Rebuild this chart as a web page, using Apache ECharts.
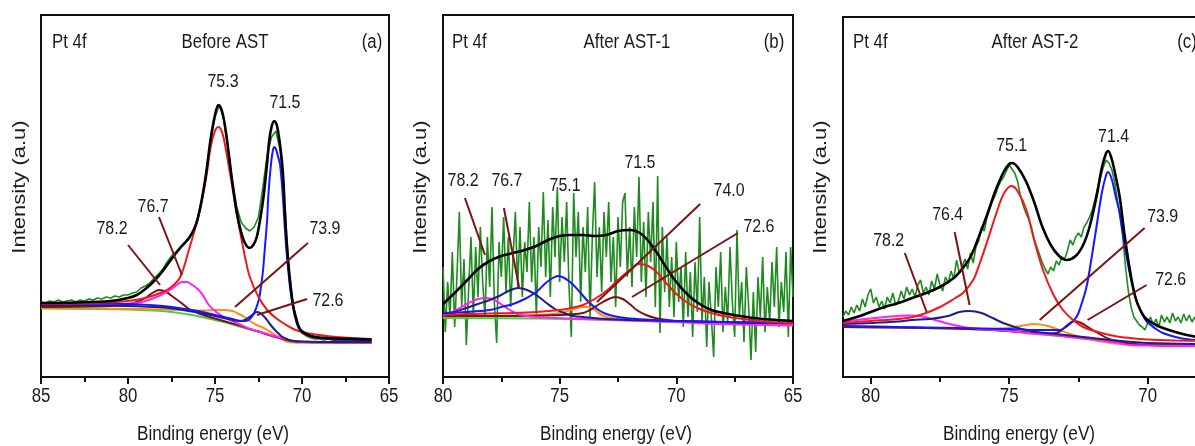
<!DOCTYPE html>
<html>
<head>
<meta charset="utf-8">
<script src="https://cdn.jsdelivr.net/npm/echarts@6/dist/echarts.min.js"></script>
<style>
  html, body { margin: 0; padding: 0; background: #fff; }
  #chart { width: 1195px; height: 446px; }
</style>
</head>
<body>
<div id="chart"></div>
<script>
// ---------- panel (a) Before AST : [binding energy eV, intensity a.u.] ----------
var aRawStart = 85, aRawStep = 0.25;
var aRaw = [75,74,76,75,77,75,76,77,75,77,76,78,77,79,78,80,79,81,80,82,82,84,85,89,91,94,99,103,108,115,
  121,125,130,133,138,145,156,176,204,236,260,272,258,228,196,170,155,149,146,150,160,190,222,240,246,226,172,108,70,52,
  44,41,39,38,38,37,38,37,36,37,36,35,36,35,34,35,34];
var aBase = [[85,68.5],[82,68],[80,67.5],[78.5,66.5],[77.5,65],[76.5,62.5],[75.5,59],[74.5,55],[73.5,50],[72.5,45.5],[71.5,40],[70.5,36],[69.5,34.8],[68,34.5],[66,34.3]];
var aOrange = [[85,69],[82,68.5],[80,68.2],[78,67.5],[77,67],[76,66.5],[75.5,66.5],[75,67],[74.5,67],[74,66],[73.7,63.7],[73.3,60],[73,56],[72.6,52],[72.2,49],[71.8,45],[71.5,41.5],[71.2,38.5],[70.9,35.5],[70.5,34.5],[70,34.3],[68,34.3],[66,34.2]];
var aMaroon = [[85,70],[81,71],[80,72.5],[79.5,75],[79,79],[78.6,84],[78.2,87],[77.8,85],[77.4,80],[77,75],[76.5,68],[76,64],[75.5,61],[75,58.5],[74.5,56],[74,53.5],[73.5,51],[73,48],[72.5,45.5],[72,42.5],[71.5,40],[71,37.5],[70.5,35.8],[70,35],[68,34.6],[66,34.5]];
var aMagenta = [[85,72],[81,72.5],[79.5,74],[79,76],[78.5,79],[78,83],[77.5,88],[77.2,92],[76.9,95],[76.6,95],[76.3,92],[76,88],[75.7,82],[75.4,73],[75,66],[74.5,60],[74,56],[73.5,52],[73,48],[72.5,45.5],[72,43],[71.5,40.5],[71,38],[70.5,36],[70,35],[68,34.8],[66,34.6]];
var aNavy = [[85,72],[82,71.5],[80,71],[78,69.5],[77,67.5],[76,64.5],[75,61],[74,57],[73.5,56],[73.1,59],[72.8,63],[72.6,65],[72.4,64],[72.1,59],[71.8,52],[71.5,46],[71.2,41],[70.9,38],[70.5,36],[70,35.5],[68,35],[66,35]];
var aBlue = [[85,74],[82,73.5],[80,73],[78,71],[76,66],[75,62],[74,58],[73.5,56],[73.25,56],[73,58],[72.75,64],[72.5,76],[72.4,85],[72.25,105],[72.13,130],[72,158],[71.94,180],[71.8,210],[71.7,224],[71.6,230],[71.5,228],[71.4,222],[71.26,212],[71.1,180],[70.98,147],[70.85,118],[70.69,90],[70.55,74],[70.4,64],[70.2,52],[70,46],[69.5,41],[69,39],[68,37.5],[66,37]];
var aRed = [[85,73],[82,74],[80,76],[79,79],[78,85],[77.5,90],[77,100],[76.5,127],[76,158],[75.75,178],[75.5,200],[75.25,230],[75,246],[74.8,250],[74.6,245],[74.4,230],[74.2,210],[74,190],[73.75,163],[73.5,140],[73.25,118],[73,100],[72.5,80],[72,67],[71.5,59],[71,53],[70.5,48],[70,45],[69,42],[68,40],[66,38]];
var aBlack = [[85,74],[83,74.5],[81,76],[80,79],[79.5,82],[79,88],[78.5,96],[78,106],[77.5,118],[77,129],[76.5,139],[76.2,148],[76,158],[75.75,178],[75.5,205],[75.25,238],[75,262],[74.8,272],[74.6,266],[74.4,248],[74.2,222],[74,194],[73.75,165],[73.5,145],[73.25,133],[73,129],[72.8,132],[72.6,140],[72.4,158],[72.2,182],[72,215],[71.88,237],[71.75,250],[71.6,256],[71.45,252],[71.26,232],[71.1,205],[70.98,165],[70.88,135],[70.7,98],[70.5,70],[70.3,55],[70.1,47],[69.5,41],[69,39.5],[68,38.5],[67,38],[66,37.5]];
var aLabels = [[74.54,295,'75.3'],[70.98,274,'71.5'],[78.56,170,'76.7'],[80.92,148,'78.2'],[68.68,148,'73.9'],[68.51,76,'72.6']];
var aLeaders = [[80.0,132,78.16,92],[78.22,160,76.9,102],[69.66,134,73.85,70],[69.71,78,72.59,62]];
var aTickLabels = [85, 80, 75, 70, 65];

// ---------- panel (b) After AST-1 ----------
var bRawStart = 80, bRawStep = 0.1;
var bRaw = [110,45,95,60,125,50,102,165,70,118, 32,88,140,60,130,80,150,95,60,140,
  90,170,75,34,135,100,160,85,140,70, 118,165,90,150,80,135,105,175,95,140,
  60,150,110,185,100,157,80,170,120,190, 95,160,115,175,90,40,184,120,165,75,
  150,105,170,60,140,195,100,150,85,165, 120,175,95,140,70,160,110,175,184,100,
  150,90,170,120,200,95,155,80,165,115, 175,70,201,44,150,85,140,70,120,60,
  135,75,110,50,125,60,105,40,115,65, 160,55,100,30,95,60,20,110,70,125,
  45,90,55,130,75,40,147,60,95,35, 110,70,17,85,25,100,60,120,45,90,
  55,115,70,130,50,95,65,125,40,130, 80];
var bBase = [[80,59],[76,58.5],[72,56.5],[68,54],[65,53]];
var bOrange = [[80,61],[78,61],[76,62],[75.3,63],[74.8,65],[74.4,68],[74,70],[73.8,70],[73.5,67],[73.2,62],[72.8,59],[72,57],[70,55],[68,54],[65,53]];
var bMaroon = [[80,61],[77,61],[75,62],[74,64],[73.7,67],[73.3,73],[72.9,78],[72.63,80],[72.3,78],[72,73],[71.7,67],[71.3,62],[70.9,59],[70.4,57],[70,56],[68,54.5],[65,53.5]];
var bMagenta = [[80,61],[79.6,65],[79.27,69],[78.9,74],[78.5,78],[78.13,79],[77.8,77],[77.4,71],[77.13,67],[76.8,63],[76.4,61],[76,60],[74,58],[72,56.5],[70,55],[68,53],[65,51.5]];
var bNavy = [[80,62],[79.5,65],[79,69],[78.5,73],[78,77],[77.5,82],[77.1,87],[76.77,89],[76.4,87],[76,82],[75.56,74],[75.2,68],[74.8,64],[74.4,61],[74,60],[73,58],[72,57],[70,56],[68,55],[65,54]];
var bBlue = [[80,64],[79,65],[78,67],[77.5,70],[77,73],[76.5,78],[76,85],[75.6,94],[75.3,99],[75.06,101],[74.8,99],[74.5,94],[74.1,84],[73.8,76],[73.4,68],[73,63],[72.5,60],[72,58.5],[71,57],[70,56],[68,55],[65,54]];
var bRed = [[80,62],[79,63],[78,63.5],[77,64],[76,65],[75,67],[74.5,69],[74,72],[73.5,78],[73,86],[72.5,97],[72,107],[71.6,113],[71.2,111],[70.8,104],[70.4,93],[70,83],[69.5,74],[69,68],[68.5,64],[68,61],[67,57.5],[66,55],[65,54]];
var bBlack = [[80,73],[79.5,84],[79,96],[78.5,108],[78,116],[77.5,121],[77,124],[76.5,127],[76,131],[75.5,137],[75,141],[74.5,142],[74,142],[73.5,141],[73,142],[72.5,146],[72,147],[71.5,143],[71,130],[70.5,112],[70,95],[69.5,82],[69,73],[68.5,67],[68,64],[67,60],[66,57.5],[65,56]];
var bLabels = [[79.14,196,'78.2'],[77.26,196,'76.7'],[74.77,191,'75.1'],[71.56,214,'71.5'],[67.74,186,'74.0'],[66.46,150,'72.6']];
var bLeaders = [[79.06,179,78.2,122],[77.39,169,76.74,90],[68.98,173,73.4,75],[67.36,144,71.9,80]];
var bTickLabels = [80, 75, 70, 65];

// ---------- panel (c) After AST-2 ----------
var cRawStart = 81, cRawStep = 0.1;
var cRaw = [60,66,62,70,64,72,66,78,70,82, 88,74,80,70,76,68,80,74,84,72,
  76,86,78,90,82,88,80,92,97,84, 90,82,96,88,103,92,86,100,94,106,
  98,117,104,110,118,108,124,114,130,136, 150,146,160,168,176,182,190,196,200,206,
  212,208,204,196,182,172,164,158,150,138, 130,122,114,108,103,110,106,116,112,120,
  118,126,137,132,140,144,140,150,154,160, 167,178,190,200,210,217,214,208,196,178,
  160,140,110,86,70,60,56,52,50,47, 54,60,52,58,50,62,55,60,54,64,
  56,60,54,63,56,62,55,60,52,58, 55];
var cBase = [[81,50],[78,49],[76,47.5],[75,46],[74,43],[73,40.5],[72,37.5],[71,34],[70,32],[68,31.5]];
var cOrange = [[81,50],[79,49.5],[77,48.5],[76,48],[75.2,48.5],[74.6,51],[74.08,53],[73.6,51],[73.2,47],[72.8,43],[72.3,39],[71.8,36],[71,33],[70,32],[68,31.5]];
var cMaroon = [[81,50],[78,49],[76,47.5],[75,46],[74,44],[73.5,43.5],[73.2,45],[72.9,52],[72.64,56],[72.4,54],[72.1,49],[71.8,44],[71.4,38],[71,35],[70.5,33],[70,32],[68,31.5]];
var cMagenta = [[81,55],[80.5,57],[80,58.5],[79.5,60],[79,61],[78.6,61.5],[78.23,61],[77.8,58],[77.3,54],[76.67,50],[76,48],[75,46],[74.4,44],[73.5,42],[72.5,39],[71.5,36],[70.65,32],[70,31.5],[69,31],[68,31]];
var cNavy = [[81,53],[80,54],[79,55.5],[78.5,57],[77.87,58],[77.2,61],[76.8,65],[76.43,66],[76,64],[75.6,59],[75.22,54],[74.8,50],[74.4,47],[74,45],[73.5,43.5],[73,42],[72.5,40.5],[72,39],[71,36],[70,34],[68,33]];
var cBlue = [[81,51],[79,50],[77,49],[75,48],[74,47],[73.5,47],[73.18,47],[72.9,51],[72.57,60],[72.4,72],[72.21,90],[72.05,115],[71.85,150],[71.65,185],[71.5,202],[71.43,205],[71.3,198],[71.15,180],[71.01,164],[70.85,135],[70.65,104],[70.4,76],[70.2,63],[70.05,56],[69.7,48],[69.45,44],[69,40],[68.5,37.5],[68,36.5]];
var cRed = [[81,54],[80,56],[79,58],[78.47,60],[78,64],[77.5,70],[77,78],[76.67,84],[76.3,97],[76.06,114],[75.8,135],[75.46,164],[75.2,183],[74.92,191],[74.7,186],[74.38,167],[74.1,137],[73.78,107],[73.4,82],[73.06,67],[72.7,57],[72.33,50],[71.8,45],[71.2,41],[70.65,39],[70,37.5],[69,36.5],[68,36]];
var cBlack = [[81,56],[80.5,60],[80,65],[79.5,70],[79,74],[78.5,79],[78,84],[77.5,90],[77,99],[76.7,108],[76.4,120],[76.1,140],[75.8,162],[75.5,186],[75.2,205],[75,213],[74.9,214],[74.7,210],[74.4,196],[74.1,175],[73.8,150],[73.5,132],[73.2,121],[72.93,117],[72.6,121],[72.33,132],[72.1,150],[71.85,180],[71.65,210],[71.5,224],[71.43,226],[71.3,218],[71.15,200],[71,178],[70.85,145],[70.65,108],[70.45,80],[70.25,66],[70.05,58],[69.7,52],[69.45,49],[69,45],[68.5,41.5],[68,39]];
var cLabels = [[74.91,231,'75.1'],[71.23,240,'71.4'],[77.22,162,'76.4'],[79.35,136,'78.2'],[69.46,160,'73.9'],[69.17,97,'72.6']];
var cLeaders = [[78.77,124,77.98,65],[76.97,145,76.43,72],[70.11,149,73.9,57],[70.04,92,72.17,57]];
var cTickLabels = [80, 75, 70];
var cMajorTicks = [65, 70, 75, 80];
var cMinorTicks = [67.5, 72.5, 77.5];

// panel headers: text, x px, y px, align
var headers = [
  ['Pt 4f', 52, 42, 'left'], ['Before AST', 225, 42, 'center'], ['(a)', 372, 42, 'center'],
  ['Pt 4f', 452, 42, 'left'], ['After AST-1', 627, 42, 'center'], ['(b)', 774, 42, 'center'],
  ['Pt 4f', 853, 42, 'left'], ['After AST-2', 1035, 42, 'center'], ['(c)', 1187, 42, 'center']
];
var xTitleCenters = [213, 616, 1019];
var yTitleCenters = [20, 421, 821];

var FONT = "'Liberation Sans',Arial,sans-serif";
var SQ = 0.84;   // the original figure is squeezed horizontally
var COLORS = {
  raw: '#1f8a1f', base: '#44d044', orange: '#ff8c1a', maroon: '#7d1212', magenta: '#ff22ff',
  navy: '#1e1e84', blue: '#1616ff', red: '#f01818', black: '#000000', leader: '#7a1414'
};

function toPairs(start, step, vals) {
  return vals.map(function (v, i) { return [+(start - i * step).toFixed(2), v]; });
}

var panels = [
  { raw: toPairs(aRawStart, aRawStep, aRaw), curves: [['base', aBase], ['orange', aOrange], ['maroon', aMaroon], ['magenta', aMagenta], ['navy', aNavy], ['blue', aBlue], ['red', aRed], ['black', aBlack]], labels: aLabels, leaders: aLeaders, ticks: aTickLabels },
  { raw: toPairs(bRawStart, bRawStep, bRaw), curves: [['base', bBase], ['orange', bOrange], ['maroon', bMaroon], ['magenta', bMagenta], ['navy', bNavy], ['blue', bBlue], ['red', bRed], ['black', bBlack]], labels: bLabels, leaders: bLeaders, ticks: bTickLabels },
  { raw: toPairs(cRawStart, cRawStep, cRaw), curves: [['base', cBase], ['orange', cOrange], ['maroon', cMaroon], ['magenta', cMagenta], ['navy', cNavy], ['blue', cBlue], ['red', cRed], ['black', cBlack]], labels: cLabels, leaders: cLeaders, ticks: cTickLabels }
];

var grids = [
  { left: 41, top: 15, width: 348, height: 362 },
  { left: 443, top: 15, width: 350, height: 362 },
  { left: 843, top: 17, width: 443.2, height: 360 }
];
var xRanges = [[65, 85], [65, 80], [65, 81]];
var yMax = [362, 362, 360];

var tickStyle = { color: '#111', width: 2 };
var xAxes = [], yAxes = [], series = [];
grids.forEach(function (g, i) {
  g.show = true;
  g.borderColor = '#111';
  g.borderWidth = 2;
  g.backgroundColor = 'transparent';
  g.containLabel = false;
  g.outerBoundsMode = 'none';
  var x = {
    gridIndex: i, type: 'value', inverse: true, position: 'bottom',
    min: xRanges[i][0], max: xRanges[i][1], interval: 5,
    axisLine: { show: true, onZero: false, lineStyle: { color: '#111', width: 2 } },
    axisTick: { show: true, inside: false, length: 7, lineStyle: tickStyle },
    minorTick: { show: true, splitNumber: 2, length: 5, lineStyle: tickStyle },
    axisLabel: { show: false },
    splitLine: { show: false }, minorSplitLine: { show: false }
  };
  if (i === 2) {
    x.axisTick.customValues = cMajorTicks;
    x.minorTick = { show: false };
  }
  xAxes.push(x);
  yAxes.push({
    gridIndex: i, type: 'value', min: 0, max: yMax[i],
    axisLine: { show: false }, axisTick: { show: false }, axisLabel: { show: false }, splitLine: { show: false }
  });

  var p = panels[i];
  series.push({
    type: 'line', xAxisIndex: i, yAxisIndex: i, data: p.raw, symbol: 'none', smooth: false,
    lineStyle: { color: COLORS.raw, width: 1.6 }, z: 2, silent: true,
    markLine: {
      silent: true, symbol: 'none', animation: false, z: 20,
      label: { show: false },
      lineStyle: { color: COLORS.leader, width: 2, type: 'solid' },
      emphasis: { disabled: true },
      data: p.leaders.map(function (s) { return [{ coord: [s[0], s[1]] }, { coord: [s[2], s[3]] }]; })
    }
  });
  p.curves.forEach(function (c, k) {
    series.push({
      type: 'line', xAxisIndex: i, yAxisIndex: i, data: c[1], symbol: 'none', smooth: 0.35,
      lineStyle: { color: COLORS[c[0]], width: c[0] === 'black' ? 2.6 : 2 }, z: 3 + k, silent: true
    });
  });
});
// minor ticks for panel (c), whose left end (81) is not on the 5 eV grid
xAxes.push({
  gridIndex: 2, type: 'value', inverse: true, position: 'bottom', offset: 0,
  min: xRanges[2][0], max: xRanges[2][1], interval: 5,
  axisLine: { show: false },
  axisTick: { show: true, inside: false, length: 5, lineStyle: tickStyle, customValues: cMinorTicks },
  axisLabel: { show: false }, splitLine: { show: false }
});

var chart = echarts.init(document.getElementById('chart'));
chart.setOption({
  animation: false,
  backgroundColor: '#fff',
  grid: grids,
  xAxis: xAxes,
  yAxis: yAxes,
  series: series
});

function textEl(str, x, y, size, align, extra) {
  var el = {
    type: 'text', x: x, y: y, scaleX: SQ, silent: true, z: 50,
    style: { text: str, font: size + 'px ' + FONT, fill: '#1a1a1a', align: align, verticalAlign: 'middle' }
  };
  if (extra) { for (var k in extra) { el[k] = extra[k]; } }
  return el;
}

var texts = [];
headers.forEach(function (h) { texts.push(textEl(h[0], h[1], h[2], 20, h[3])); });
panels.forEach(function (p, i) {
  var finder = { xAxisIndex: i, yAxisIndex: i };
  p.labels.forEach(function (l) {
    var pt = chart.convertToPixel(finder, [l[0], l[1]]);
    texts.push(textEl(l[2], pt[0], pt[1], 19, 'center'));
  });
  p.ticks.forEach(function (v) {
    var pt = chart.convertToPixel(finder, [v, 0]);
    texts.push(textEl(String(v), pt[0], pt[1] + 19, 20, 'center'));
  });
  texts.push(textEl('Binding energy (eV)', xTitleCenters[i], 434, 20.5, 'center'));
  texts.push(textEl('Intensity (a.u)', yTitleCenters[i], 187, 22, 'center',
    { rotation: Math.PI / 2, scaleX: 1, scaleY: SQ }));
});
chart.setOption({ graphic: { elements: texts } });
</script>
</body>
</html>
